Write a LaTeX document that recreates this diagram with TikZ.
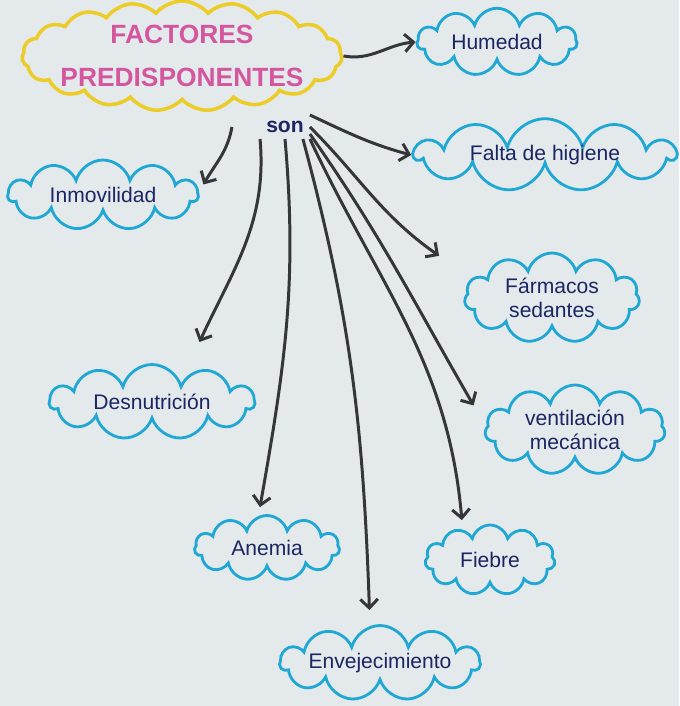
\documentclass[tikz,border=0pt]{standalone}
\usepackage{fontspec}
\setmainfont{Liberation Sans}
\usetikzlibrary{shapes.symbols,arrows.meta}
\definecolor{papel}{RGB}{228,233,236}
\definecolor{amarillo}{RGB}{236,204,38}
\definecolor{rosa}{RGB}{212,86,158}
\definecolor{celeste}{RGB}{32,168,212}
\definecolor{tinta}{RGB}{28,38,98}
\definecolor{grafito}{RGB}{52,54,60}

\begin{document}
\begin{tikzpicture}[x=0.02cm, y=-0.02cm,
        nube/.style={cloud, cloud puffs=11, cloud ignores aspect, draw=celeste, line width=1.6pt,
            text=tinta, align=center, font=\large, inner sep=0pt},
        flecha/.style={draw=grafito, line width=1.7pt, -{Straight Barb[length=5pt, width=10pt]}}]
            \useasboundingbox (0, 0) rectangle (679, 706);
            \fill[papel] (0, 0) rectangle (679, 706);
            \node[cloud, cloud puffs=19, cloud puff arc=100, cloud ignores aspect, draw=amarillo, line width=2pt,
                inner xsep=-2.2cm, inner ysep=-0.6cm, minimum width=6.4cm, minimum height=2.2cm,
                text=rosa, align=center, font=\fontsize{15}{24}\selectfont\bfseries] (fact) at (182, 56)
                {FACTORES\\PREDISPONENTES};
            \node[text=tinta, font=\large\bfseries] (son) at (285, 127) {son};
            \node[nube, minimum width=3.2cm, minimum height=1.35cm] (hum) at (497, 42) {Humedad};
            \node[nube, minimum width=5.2cm, minimum height=1.4cm] (hig) at (545, 155) {Falta de higiene};
            \node[nube, minimum width=3.8cm, minimum height=1.4cm] (inm) at (103, 195) {Inmovilidad};
            \node[nube, minimum width=3.5cm, minimum height=1.8cm] (far) at (552, 298) {Fármacos\\sedantes};
            \node[nube, minimum width=4.1cm, minimum height=1.5cm] (des) at (152, 402) {Desnutrición};
            \node[nube, minimum width=3.6cm, minimum height=1.8cm] (ven) at (575, 430) {ventilación\\mecánica};
            \node[nube, minimum width=2.9cm, minimum height=1.3cm] (ane) at (267, 548) {Anemia};
            \node[nube, minimum width=2.6cm, minimum height=1.4cm] (fie) at (490, 560) {Fiebre};
            \node[nube, minimum width=3.6cm, minimum height=1.5cm] (env) at (380, 663) {Envejecimiento};
            \draw[flecha] (fact.east) to[out=-10, in=185] (hum.west);
            \draw[flecha] (son.north east) to[out=-25, in=165] (hig.west);
            \draw[flecha] ([xshift=-16pt]son.west) to[out=-100, in=60] ([xshift=2pt, yshift=6pt]inm.east);
            \draw[flecha] (son.east) to[out=-45, in=145] ([xshift=-14pt, yshift=24pt]far.west);
            \draw[flecha] (son.south west) to[out=-85, in=65] ([xshift=27pt, yshift=12pt]des.north);
            \draw[flecha] ([yshift=-4pt]son.east) to[out=-55, in=120] ([xshift=-6pt, yshift=14pt]ven.west);
            \draw[flecha] (son.south) to[out=-85, in=80] ([xshift=-4pt, yshift=4pt]ane.north);
            \draw[flecha] (son.south east) to[out=-65, in=95] ([xshift=-16pt, yshift=2pt]fie.north);
            \draw[flecha] ([xshift=-4pt]son.south east) to[out=-75, in=92] ([xshift=-6pt, yshift=8pt]env.north);
\end{tikzpicture}
\end{document}
